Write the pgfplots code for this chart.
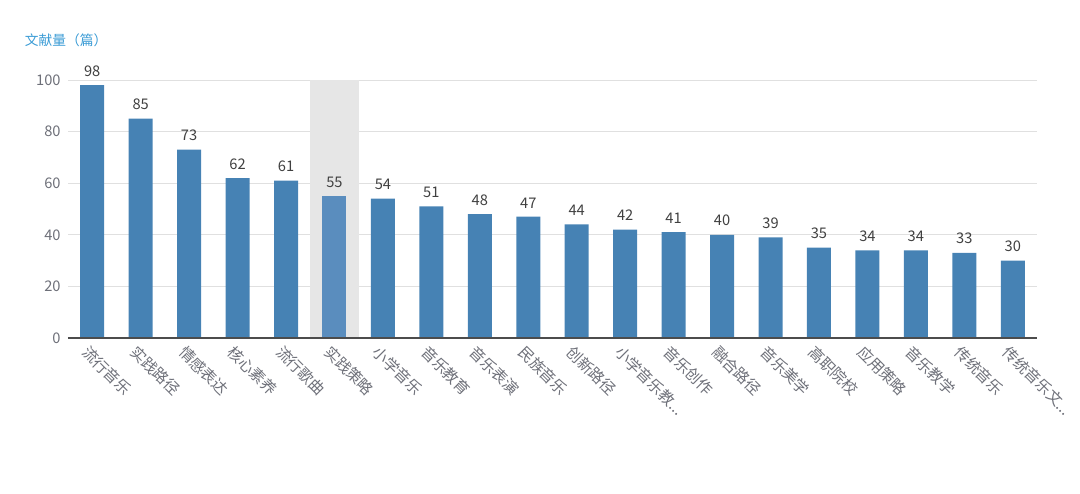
\documentclass[border=0pt]{standalone}
\usepackage{pgfplots}
\pgfplotsset{compat=1.18}
\usepackage{fontspec}
\setmainfont{Noto Sans CJK SC}
\definecolor{barc}{HTML}{4682B4}
\definecolor{barh}{HTML}{5A8DBE}
\definecolor{bandc}{HTML}{E6E6E6}
\definecolor{gridc}{HTML}{E0E0E0}
\definecolor{txtc}{HTML}{6E7079}
\definecolor{titc}{HTML}{3A9BD5}
\begin{document}
\begin{tikzpicture}
\useasboundingbox (0,0) rectangle (810pt,369.75pt);
\node[anchor=west,text=titc,font=\fontsize{10.3}{12}\selectfont,inner sep=0pt] at (18.5pt,339.75pt) {文献量（篇）};
\begin{axis}[
  at={(51pt,116.25pt)}, anchor=south west,
  scale only axis, width=726.75pt, height=193.5pt,
  xmin=-0.5, xmax=19.5, ymin=0, ymax=100,
  ytick={0,20,40,60,80,100},
  xtick={0,1,2,3,4,5,6,7,8,9,10,11,12,13,14,15,16,17,18,19},
  xticklabels={流行音乐,实践路径,情感表达,核心素养,流行歌曲,实践策略,小学音乐,音乐教育,音乐表演,民族音乐,创新路径,{小学音乐教\mbox{.}\mbox{.}\mbox{.}},音乐创作,融合路径,音乐美学,高职院校,应用策略,音乐教学,传统音乐,{传统音乐文\mbox{.}\mbox{.}\mbox{.}}},
  xticklabel style={rotate=-45, anchor=north west, inner sep=0pt, xshift=2pt, yshift=-4pt, font=\fontsize{11.5}{12}\selectfont, text=txtc},
  yticklabel style={font=\fontsize{11}{12}\selectfont, text=txtc, xshift=-2pt},
  /pgf/number format/assume math mode=true,
  ymajorgrids, grid style={gridc, line width=0.6pt},
  axis x line*=bottom, axis y line*=left,
  axis line style={draw=none},
  major tick length=0pt,
  clip=false,
  every node near coord/.append style={font=\fontsize{11}{12}\selectfont, text=black!75, yshift=3pt},
]
\addplot[ybar, bar width=36.3pt, bar shift=0pt, fill=bandc, draw=none, forget plot] coordinates {(5,100)};
\addplot[ybar, bar width=18pt, bar shift=0pt, fill=barc, draw=none, nodes near coords] coordinates {
(0,98) (1,85) (2,73) (3,62) (4,61) (6,54) (7,51) (8,48) (9,47) (10,44) (11,42) (12,41) (13,40) (14,39) (15,35) (16,34) (17,34) (18,33) (19,30)};
\addplot[ybar, bar width=18pt, bar shift=0pt, fill=barh, draw=none, nodes near coords] coordinates {(5,55)};
\draw[black!70, line width=0.8pt] (rel axis cs:0,0) -- (rel axis cs:1,0);
\end{axis}
\end{tikzpicture}
\end{document}
